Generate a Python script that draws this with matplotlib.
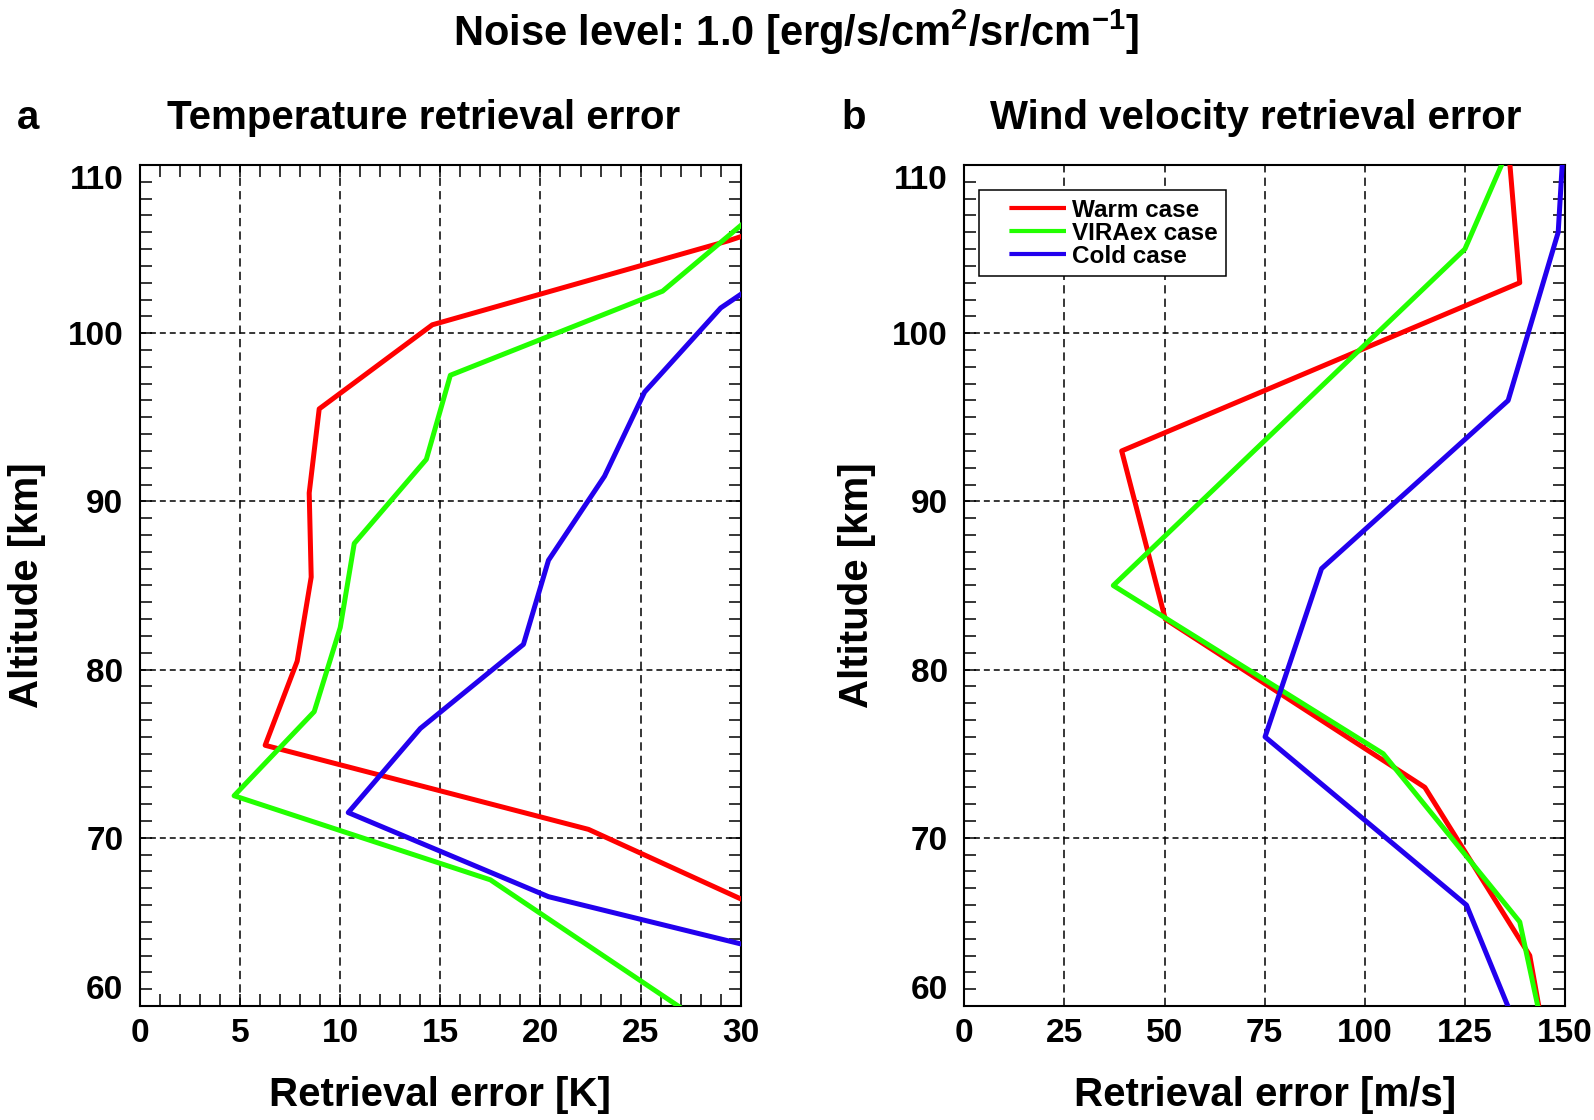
import matplotlib
matplotlib.use('Agg')
import matplotlib.pyplot as plt
from matplotlib.ticker import MultipleLocator
from matplotlib.lines import Line2D

plt.rcParams['font.family'] = ['Liberation Sans', 'DejaVu Sans']
plt.rcParams['font.weight'] = 'bold'
plt.rcParams['axes.labelweight'] = 'bold'
plt.rcParams['mathtext.fontset'] = 'custom'
plt.rcParams['mathtext.rm'] = 'Liberation Sans:bold'
plt.rcParams['mathtext.it'] = 'Liberation Sans:bold'
plt.rcParams['mathtext.bf'] = 'Liberation Sans:bold'

# Panel a: temperature retrieval error [K] vs altitude [km]
alt_warm_T = [110.5, 105.5, 100.5, 95.5, 90.5, 85.5, 80.5, 75.5, 70.5, 65.5]
err_warm_T = [42.0, 29.4, 14.6, 8.95, 8.45, 8.55, 7.85, 6.25, 22.4, 31.6]
alt_vira_T = [107.5, 102.5, 97.5, 92.5, 87.5, 82.5, 77.5, 72.5, 67.5, 57.5]
err_vira_T = [31.1, 26.1, 15.5, 14.3, 10.7, 10.0, 8.7, 4.7, 17.5, 30.0]
alt_cold_T = [106.5, 101.5, 96.5, 91.5, 86.5, 81.5, 76.5, 71.5, 66.5, 61.5]
err_cold_T = [35.2, 29.0, 25.2, 23.2, 20.4, 19.15, 14.0, 10.4, 20.4, 37.5]

# Panel b: wind velocity retrieval error [m/s] vs altitude [km]
alt_warm_W = [113, 103, 93, 83, 73, 63, 53]
err_warm_W = [135.2, 138.7, 39.3, 50.2, 115.0, 141.2, 148.7]
alt_vira_W = [115, 105, 85, 75, 65, 55]
err_vira_W = [143.3, 125.0, 37.2, 104.6, 138.7, 147.7]
alt_cold_W = [116, 106, 96, 86, 76, 66, 56]
err_cold_W = [150.8, 148.3, 135.8, 89.2, 75.1, 125.4, 142.6]

alt_ticks = [60, 70, 80, 90, 100, 110]
case_names = ['Warm case', 'VIRAex case', 'Cold case']
case_colors = ['#FF0000', '#22FF00', '#2200EE']

fig = plt.figure(figsize=(15.94, 11.2), dpi=100)
axL = fig.add_axes([140/1594, 114/1120, 600.7/1594, 841/1120])
axR = fig.add_axes([964.3/1594, 114/1120, 600.7/1594, 841/1120])

lw = 3.6
for x, y, c in zip([err_warm_T, err_vira_T, err_cold_T],
                   [alt_warm_T, alt_vira_T, alt_cold_T], case_colors):
    axL.plot(x, y, color=c, lw=lw, zorder=3)
for x, y, c in zip([err_warm_W, err_vira_W, err_cold_W],
                   [alt_warm_W, alt_vira_W, alt_cold_W], case_colors):
    axR.plot(x, y, color=c, lw=lw, zorder=3)

axL.set_xlim(0, 30)
axR.set_xlim(0, 150)
axL.xaxis.set_major_locator(MultipleLocator(5))
axL.xaxis.set_minor_locator(MultipleLocator(1))
axR.xaxis.set_major_locator(MultipleLocator(25))

for ax in (axL, axR):
    ax.set_ylim(60, 110)
    ax.set_yticks(alt_ticks)
    ax.yaxis.set_minor_locator(MultipleLocator(1))
    for s in ax.spines.values():
        s.set_linewidth(1.5)
    ax.grid(axis='x', color='k', lw=1.1, linestyle=(0, (5.4, 3.4)))
    ax.grid(axis='y', color='k', lw=1.1, linestyle=(0, (3.9, 2.6)))
    ax.tick_params(which='both', direction='in', length=8.5, width=1.1,
                   labelsize=24, right=True)
    ax.tick_params(axis='x', pad=9)
    ax.tick_params(axis='y', pad=12)
    ax.set_ylabel('Altitude [km]', fontsize=29, fontweight='bold')
    ax.yaxis.label.set_va('baseline')

axL.tick_params(which='both', top=True)
axR.tick_params(axis='x', which='both', length=0)

axL.set_xlabel('Retrieval error [K]', fontsize=29, fontweight='bold')
axR.set_xlabel('Retrieval error [m/s]', fontsize=29, fontweight='bold')
for ax in (axL, axR):
    ax.xaxis.label.set_va('baseline')
    ax.xaxis.set_label_coords(0.5, -0.119)
axL.yaxis.set_label_coords(-0.169, 0.5)
axR.yaxis.set_label_coords(-0.160, 0.5)

# legend, line drawn with a leading gap like the original
hl_lw = 3.0
handles = [Line2D([], [], color=c, lw=hl_lw,
                  linestyle=(41/hl_lw, (41/hl_lw, 15.4/hl_lw)))
           for c in case_colors]
leg = axR.legend(handles, case_names, loc='upper left',
                 bbox_to_anchor=(0.0245, 0.970), borderaxespad=0,
                 fontsize=17.5, handlelength=3.22, handletextpad=0.25,
                 labelspacing=0.0, borderpad=0.35, fancybox=False,
                 framealpha=1, edgecolor='k')
leg.get_frame().set_linewidth(1.1)
leg.set_zorder(5)

fig.text(0.4995, 0.959, 'Noise level: 1.0 [erg/s/cm$^{2}$/sr/cm$^{-1}$]',
         ha='center', va='baseline', fontsize=30)
fig.text(0.0179, 0.8848, 'a', ha='center', va='baseline', fontsize=29)
fig.text(0.266, 0.8848, 'Temperature retrieval error', ha='center',
         va='baseline', fontsize=29)
fig.text(0.5358, 0.8848, 'b', ha='center', va='baseline', fontsize=29)
fig.text(0.7876, 0.8848, 'Wind velocity retrieval error', ha='center',
         va='baseline', fontsize=29)

# end labels of the altitude axis sit inside the frame
fig.canvas.draw()
for ax in (axL, axR):
    ticks = ax.yaxis.get_major_ticks()
    ticks[0].label1.set_va('bottom')
    ticks[-1].label1.set_va('top')

fig.savefig('out.png', dpi=100)
